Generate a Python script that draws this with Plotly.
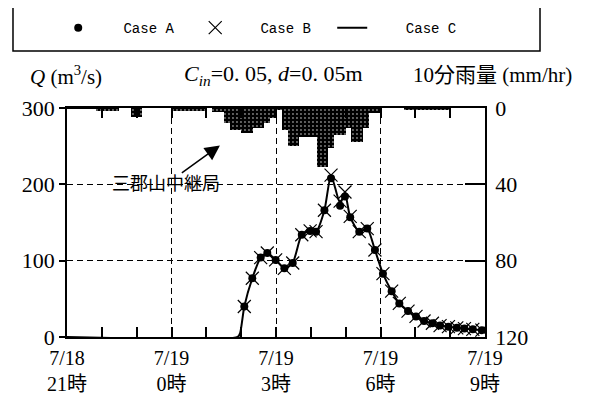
import plotly.graph_objects as go

# ---------------- data ----------------
# hours after 7/18 21:00
tick_hours = [0, 3, 6, 9, 12]
tick_labels = ["7/18<br>21時", "7/19<br>0時", "7/19<br>3時", "7/19<br>6時", "7/19<br>9時"]

obs_t = [5.09, 5.32, 5.56, 5.75, 5.99, 6.24, 6.48, 6.74, 6.98, 7.15, 7.39, 7.58,
         7.84, 7.98, 8.13, 8.39, 8.62, 8.84, 9.07, 9.32, 9.54, 9.79, 10.02, 10.25,
         10.49, 10.71, 10.95, 11.19, 11.41, 11.65, 11.91]
case_a = [40, 77, 104, 110, 101, 90, 97, 134, 139, 138, 166, 208,
          172, 184, 157, 138, 142, 114, 83, 60, 44, 34, 27, 21,
          18, 15, 13.5, 12, 11, 10, 9]
case_b = [40, 77, 104, 110, 101, 90, 97, 134, 139, 138, 166, 212,
          178, 190, 158, 138, 142, 114, 83, 60, 44, 34, 27, 21,
          18, 15, 13.5, 12, 11, 10, 9]
case_c_t = [0, 4.9, 4.97, 5.09, 5.32, 5.56, 5.75, 5.99, 6.24, 6.48, 6.74, 6.98, 7.15,
            7.39, 7.58, 7.84, 7.98, 8.13, 8.39, 8.62, 8.84, 9.07, 9.32, 9.54, 9.79,
            10.02, 10.25, 10.49, 10.71, 10.95, 11.19, 11.41, 11.65, 11.91, 12.0]
case_c = [0, 0, 5, 40, 77, 104, 110, 101, 90, 97, 134, 139, 138,
          166, 212, 175, 188, 157, 138, 142, 114, 83, 60, 44, 34,
          27, 21, 18, 15, 13.5, 12, 11, 10, 9, 8.8]

# 10-minute rainfall (mm/hr), starting 21:00
rain_start = 0.0
rain_step = 1 / 6
rain_mm = [
    0.5, 0.5, 0.5, 0.5, 0.5, 1.4, 1.4, 1.4, 1.4, 0.0,
    0.0, 4.5, 4.5, 0.0, 0.0, 0.0, 0.0, 0.0, 1.5, 1.5,
    1.5, 1.5, 1.5, 1.5, 0.0, 2.0, 2.0, 8.0, 11.5, 11.5,
    13.3, 13.3, 10.6, 10.6, 8.0, 5.0, 1.0, 11.5, 20.0, 20.0,
    15.0, 15.0, 15.0, 31.0, 31.0, 21.0, 14.0, 14.0, 10.5, 17.7,
    17.7, 10.5, 2.6, 2.6, 0.0, 0.0, 0.0, 0.0, 0.7, 0.7,
    0.7, 0.7, 0.7, 0.7, 0.7, 0.7, 0.0, 0.0, 0.0, 0.0,
    0.0, 0.0]
rain_t = [rain_start + (i + 0.5) * rain_step for i in range(len(rain_mm))]

FONT = "Liberation Serif, Noto Sans CJK JP, serif"

fig = go.Figure()
fig.add_trace(go.Scatter(
    x=obs_t, y=case_a, mode="markers", name="   Case A", legendrank=1,
    marker=dict(symbol="circle", size=8, color="black"),
))
fig.add_trace(go.Scatter(
    x=obs_t, y=case_b, mode="markers", name="   Case B", legendrank=2,
    marker=dict(symbol="x-thin", size=13, line=dict(color="black", width=1.2)),
))
fig.add_trace(go.Scatter(
    x=case_c_t, y=case_c, mode="lines", name="    Case C", legendrank=3,
    line=dict(color="black", width=2, shape="spline", smoothing=0.6),
))
fig.add_trace(go.Bar(
    x=rain_t, y=rain_mm, yaxis="y2", width=rain_step, showlegend=False,
    marker=dict(color="black", line_width=0,
                pattern=dict(shape=".", fgcolor="white", size=4, solidity=0.18, fillmode="overlay")),
))

axis_common = dict(showline=True, linecolor="black", linewidth=1.5, zeroline=False,
                   tickcolor="black", tickwidth=1.5)

fig.update_layout(
    width=581, height=391,
    margin=dict(l=59, r=104, t=100, b=62, autoexpand=False),
    paper_bgcolor="white", plot_bgcolor="white",
    font=dict(family=FONT, color="black", size=20),
    bargap=0,
    legend=dict(orientation="h", x=-0.021, y=1.349, xanchor="left", yanchor="middle",
                font=dict(family="Liberation Mono", size=14), traceorder="normal",
                entrywidth=92, bgcolor="rgba(0,0,0,0)"),
    xaxis=dict(**axis_common, range=[0, 12], tickvals=tick_hours, ticktext=tick_labels,
               ticks="inside", ticklen=10, mirror="allticks",
               showgrid=True, gridcolor="black", griddash="6px,4px", gridwidth=1,
               minor=dict(dtick=1, ticks="inside", ticklen=8, tickcolor="black", tickwidth=1.5,
                          showgrid=False),
               tickfont=dict(size=20), ticklabelstandoff=2),
    yaxis=dict(**axis_common, range=[0, 300], tickvals=[0, 100, 200, 300],
               ticks="outside", ticklen=6, showgrid=True, gridcolor="black",
               griddash="6px,4px", gridwidth=1, tickfont=dict(size=22)),
    yaxis2=dict(**axis_common, overlaying="y", side="right", range=[120, 0],
                tickvals=[0, 40, 80, 120], ticks="inside", ticklen=20, showgrid=False,
                tickfont=dict(size=22), ticklabelstandoff=4),
    shapes=[dict(type="rect", xref="paper", yref="paper", x0=-0.1292, x1=1.1316,
                 y0=1.2489, y1=1.4498, line=dict(color="black", width=1.5))],
    annotations=[
        dict(xref="paper", yref="paper", x=-0.0933, y=1.144, xanchor="left", yanchor="middle",
             text="<i>Q</i> (m<sup>3</sup>/s)", showarrow=False, font=dict(size=21)),
        dict(xref="paper", yref="paper", x=0.495, y=1.144, xanchor="center", yanchor="middle",
             text="<i>C</i><sub><i>in</i></sub>=0. 05, <i>d</i>=0. 05m", showarrow=False,
             font=dict(size=22)),
        dict(xref="paper", yref="paper", x=1.017, y=1.144, xanchor="center", yanchor="middle",
             text="10分雨量 (mm/hr)", showarrow=False, font=dict(size=21)),
        dict(x=4.39, y=251, xref="x", yref="y", text="三郡山中継局", showarrow=True,
             ax=-54, ay=39, arrowhead=2, arrowsize=2, arrowwidth=1.5, arrowcolor="black",
             font=dict(size=18)),
    ],
)

fig.write_html("out.html")
